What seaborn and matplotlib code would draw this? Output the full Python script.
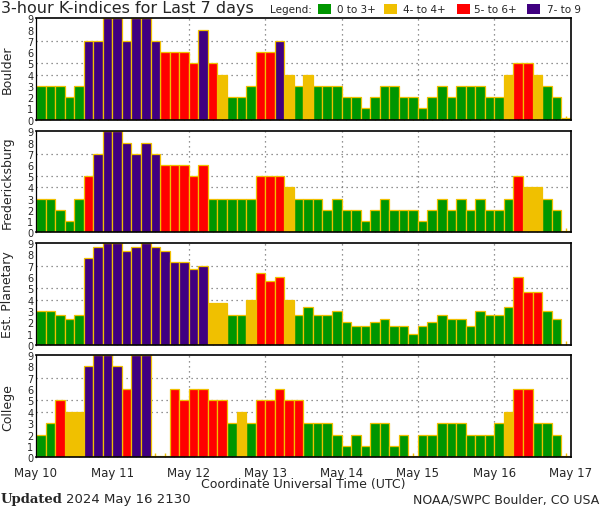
import numpy as np
import pandas as pd
import matplotlib
matplotlib.use('Agg')
import matplotlib.pyplot as plt
from matplotlib.patches import Rectangle
import seaborn as sns

# 3-hour K-index values, 8 per day, May 10 00 UTC .. May 16 21 UTC
days = ['May 10', 'May 11', 'May 12', 'May 13', 'May 14', 'May 15', 'May 16', 'May 17']
stations = ['Boulder', 'Fredericksburg', 'Est. Planetary', 'College']

boulder = [3, 3, 3, 2, 3, 7, 7, 9,
           9, 7, 9, 9, 7, 6, 6, 6,
           5, 8, 5, 4, 2, 2, 3, 6,
           6, 7, 4, 3, 4, 3, 3, 3,
           2, 2, 1, 2, 3, 3, 2, 2,
           1, 2, 3, 2, 3, 3, 3, 2,
           2, 4, 5, 5, 4, 3, 2, 0.15]
fredericksburg = [3, 3, 2, 1, 3, 5, 7, 9,
                  9, 8, 7, 8, 7, 6, 6, 6,
                  5, 6, 3, 3, 3, 3, 3, 5,
                  5, 5, 4, 3, 3, 3, 2, 3,
                  2, 2, 1, 2, 3, 2, 2, 2,
                  1, 2, 3, 2, 3, 2, 3, 2,
                  2, 3, 5, 4, 4, 3, 2, 0.15]
planetary = [3.00, 3.00, 2.67, 2.33, 2.67, 7.67, 8.67, 9.00,
             9.00, 8.33, 8.67, 9.00, 8.67, 8.33, 7.33, 7.33,
             6.67, 7.00, 3.67, 3.67, 2.67, 2.67, 4.00, 6.33,
             5.67, 6.00, 4.00, 2.67, 3.33, 2.67, 2.67, 3.00,
             2.00, 1.67, 1.67, 2.00, 2.33, 1.67, 1.67, 1.00,
             1.67, 2.00, 2.67, 2.33, 2.33, 1.67, 3.00, 2.67,
             2.67, 3.33, 6.00, 4.67, 4.67, 3.00, 2.33, 0]
college = [2, 3, 5, 4, 4, 8, 9, 9,
           8, 6, 9, 9, 0.15, 0.15, 6, 5,
           6, 6, 5, 5, 3, 4, 3, 5,
           5, 6, 5, 5, 3, 3, 3, 2,
           1, 2, 1, 3, 3, 1, 2, 0.15,
           2, 2, 3, 3, 3, 2, 2, 2,
           3, 4, 6, 6, 3, 3, 2, 0.15]
series = [boulder, fredericksburg, planetary, college]

levels = ['0 to 3+', '4- to 4+', '5- to 6+', '7- to 9']
colors = ['#009600', '#f0c000', '#ff0000', '#400080']
edge = '#f0c000'


def level_of(k):
    k = np.floor(k + 0.5)
    if k <= 3:
        return levels[0]
    if k == 4:
        return levels[1]
    if k <= 6:
        return levels[2]
    return levels[3]


sns.set_style('white')
plt.rcParams['font.family'] = ['DejaVu Sans']

W, H = 600, 510
fig = plt.figure(figsize=(6, 5.1), dpi=100)

# panel top/bottom in pixels
bounds = [(19.3, 120.7), (132.3, 233.3), (244, 346), (356, 458.3)]
x0, x1 = 36, 570.7

for i, (name, vals) in enumerate(zip(stations, series)):
    top, bot = bounds[i]
    ax = fig.add_axes([x0 / W, 1 - bot / H, (x1 - x0) / W, (bot - top) / H])
    df = pd.DataFrame({'slot': range(len(vals)), 'kp': vals,
                       'level': [level_of(v) for v in vals]})
    sns.barplot(data=df, x='slot', y='kp', hue='level', hue_order=levels,
                palette=colors, saturation=1, dodge=False, width=1.0,
                edgecolor=edge, linewidth=0.9, errorbar=None, legend=False, ax=ax)
    for y in [4, 5, 7]:
        ax.axhline(y, color='#707070', ls=(0, (1, 3)), lw=0.9, zorder=0.5)
    for d in range(1, 7):
        ax.axvline(-0.5 + 8 * d, color='#707070', ls=(0, (1, 3)), lw=0.9, zorder=0.5)
    ax.set_xlim(-0.5, 55.5)
    ax.set_ylim(0, 9)
    ax.set_yticks(range(10))
    ax.set_yticklabels([str(v) for v in range(10)], fontsize=7)
    ax.tick_params(axis='y', length=0, pad=2)
    ax.set_xticks([-0.5 + 8 * d for d in range(8)])
    ax.set_xticks(range(56), minor=True)
    ax.tick_params(axis='x', which='minor', direction='in', length=3,
                   color=edge, width=1, bottom=True)
    ax.tick_params(axis='x', which='major', length=0, pad=6)
    if i == 3:
        ax.set_xticklabels(days, fontsize=8.5)
    else:
        ax.set_xticklabels([])
    ax.set_xlabel('')
    ax.set_ylabel(name, fontsize=9)
    ax.yaxis.set_label_coords(-0.041, 0.5)
    for s in ['top', 'bottom']:
        ax.spines[s].set_color('black')
        ax.spines[s].set_linewidth(1.2)
    ax.spines['left'].set_color('black')
    ax.spines['left'].set_linewidth(0.9)
    ax.spines['right'].set_color('black')
    ax.spines['right'].set_linewidth(1.2)
    ax.spines['right'].set_linestyle((0, (2, 1)))

fig.text(1 / W, 1 - 8.5 / H, '3-hour K-indices for Last 7 days', fontsize=11.5,
         va='center', ha='left')
fig.text(270 / W, 1 - 10 / H, 'Legend:', fontsize=7.5, va='center', ha='left')
legend_pos = [(318, 337), (384, 403), (457, 474), (527, 547)]
for (sx, tx), lab, c in zip(legend_pos, levels, colors):
    fig.add_artist(Rectangle((sx / W, 1 - 15 / H), 13 / W, 10 / H,
                             facecolor=c, edgecolor='none', transform=fig.transFigure))
    fig.text(tx / W, 1 - 10 / H, lab, fontsize=7.5, va='center', ha='left')

fig.text(303 / W, 1 - 485 / H, 'Coordinate Universal Time (UTC)', fontsize=9,
         va='center', ha='center')
fig.text(1 / W, 1 - 500 / H, 'Updated', fontsize=9.5, fontweight='bold',
         family='DejaVu Serif', va='center', ha='left')
fig.text(66 / W, 1 - 500 / H, '2024 May 16 2130', fontsize=9.5, va='center', ha='left')
fig.text(599 / W, 1 - 500 / H, 'NOAA/SWPC Boulder, CO USA', fontsize=9,
         va='center', ha='right')

fig.savefig('out.png', dpi=100, facecolor='white')
